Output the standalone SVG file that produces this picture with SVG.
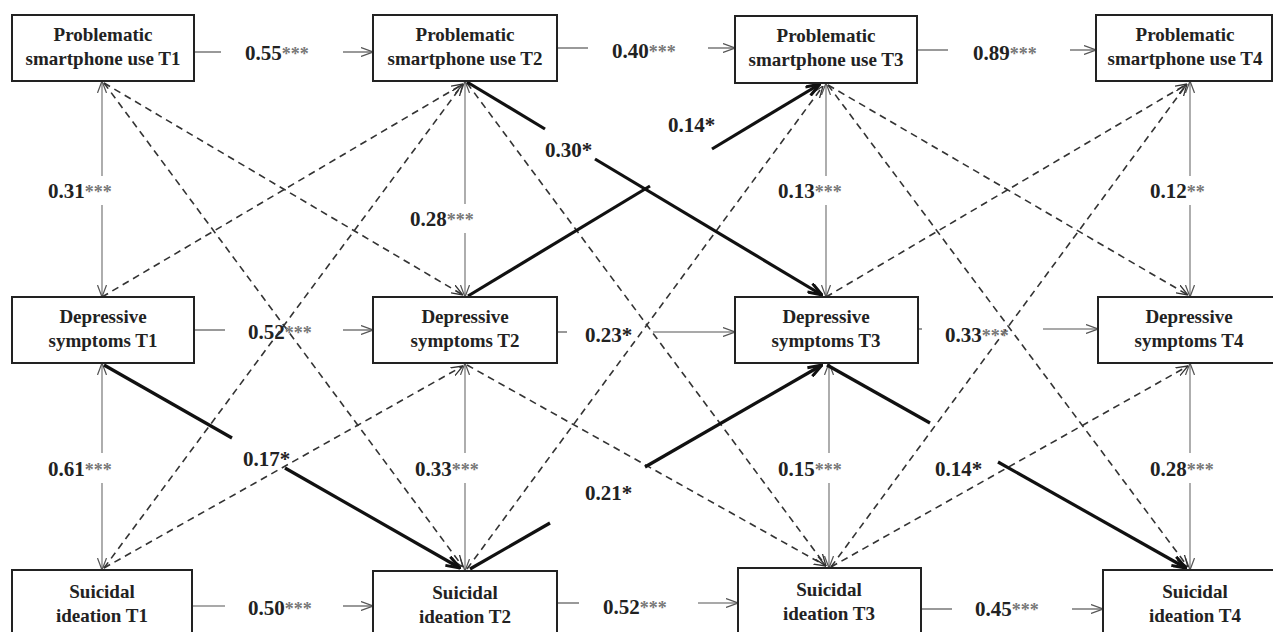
<svg xmlns="http://www.w3.org/2000/svg" width="1273" height="632" viewBox="0 0 1273 632">
<style>
.box{fill:#fff;stroke:#222;stroke-width:2}
.nt{font-family:"Liberation Serif",serif;font-weight:bold;font-size:19px;fill:#222;text-anchor:middle}
.lb{font-family:"Liberation Serif",serif;font-weight:bold;font-size:21px;fill:#222}
.st{fill:#777;font-size:18px}
.thin{stroke:#555;stroke-width:1.2;fill:none}
.vert{stroke:#777;stroke-width:1.2;fill:none}
.dash{stroke:#333;stroke-width:1.6;fill:none;stroke-dasharray:7 5}
.thick{stroke:#111;stroke-width:3.2;fill:none}
</style>
<defs>
<marker id="ah" viewBox="0 0 12 10" refX="12" refY="5" markerWidth="12" markerHeight="10" markerUnits="userSpaceOnUse" orient="auto-start-reverse"><path d="M0,0.5 L12,5 L0,9.5" fill="none" stroke="#555" stroke-width="1.2"/></marker>
<marker id="ahd" viewBox="0 0 12 10" refX="12" refY="5" markerWidth="12" markerHeight="10" markerUnits="userSpaceOnUse" orient="auto"><path d="M0,0.5 L12,5 L0,9.5" fill="none" stroke="#333" stroke-width="1.3"/></marker>
<marker id="ahb" viewBox="0 0 16 12" refX="15" refY="6" markerWidth="16" markerHeight="12" markerUnits="userSpaceOnUse" orient="auto"><path d="M1,1 L15,6 L1,11" fill="none" stroke="#111" stroke-width="3"/></marker>
</defs>

<g id="connectors">
<path class="thin" d="M194,52 H221"/><path class="thin" d="M343,52 H373" marker-end="url(#ah)"/>
<path class="thin" d="M557,48 H588" stroke="#999"/><path class="thin" d="M708,48 H735" marker-end="url(#ah)"/>
<path class="thin" d="M917,50 H948"/><path class="thin" d="M1070,50 H1096" marker-end="url(#ah)"/>
<path class="thin" d="M194,330 H225"/><path class="thin" d="M343,330 H373" marker-end="url(#ah)"/>
<path class="thin" d="M557,332 H567"/><path class="thin" d="M653,332 H735" marker-end="url(#ah)"/>
<path class="thin" d="M918,329 H922"/><path class="thin" d="M1043,329 H1098" marker-end="url(#ah)"/>
<path class="thin" d="M192,606 H225"/><path class="thin" d="M343,606 H373" marker-end="url(#ah)"/>
<path class="thin" d="M557,603 H579"/><path class="thin" d="M698,603 H738" marker-end="url(#ah)"/>
<path class="thin" d="M921,609 H952"/><path class="thin" d="M1072,609 H1103" marker-end="url(#ah)"/>
<path class="vert" d="M102,176 V81" marker-end="url(#ah)"/><path class="vert" d="M102,205 V297" marker-end="url(#ah)"/>
<path class="vert" d="M102,453 V363" marker-end="url(#ah)"/><path class="vert" d="M102,483 V570" marker-end="url(#ah)"/>
<path class="vert" d="M465,204 V81" marker-end="url(#ah)"/><path class="vert" d="M465,233 V297" marker-end="url(#ah)"/>
<path class="vert" d="M465,453 V363" marker-end="url(#ah)"/><path class="vert" d="M465,483 V571" marker-end="url(#ah)"/>
<path class="vert" d="M826,176 V83" marker-end="url(#ah)"/><path class="vert" d="M826,205 V297" marker-end="url(#ah)"/>
<path class="vert" d="M829,453 V363" marker-end="url(#ah)"/><path class="vert" d="M829,483 V568" marker-end="url(#ah)"/>
<path class="vert" d="M1190,176 V81" marker-end="url(#ah)"/><path class="vert" d="M1190,205 V297" marker-end="url(#ah)"/>
<path class="vert" d="M1190,453 V363" marker-end="url(#ah)"/><path class="vert" d="M1190,483 V570" marker-end="url(#ah)"/>
<path class="dash" d="M104,83 L463,295" marker-end="url(#ahd)"/>
<path class="dash" d="M104,83 L463,567" marker-end="url(#ahd)"/>
<path class="dash" d="M102,297 L463,84" marker-end="url(#ahd)"/>
<path class="dash" d="M104,568 L463,84" marker-end="url(#ahd)"/>
<path class="dash" d="M104,568 L463,366" marker-end="url(#ahd)"/>
<path class="dash" d="M467,83 L826,566" marker-end="url(#ahd)"/>
<path class="dash" d="M467,365 L826,566" marker-end="url(#ahd)"/>
<path class="dash" d="M467,569 L823,86" marker-end="url(#ahd)"/>
<path class="dash" d="M828,85 L1188,295" marker-end="url(#ahd)"/>
<path class="dash" d="M828,85 L1188,567" marker-end="url(#ahd)"/>
<path class="dash" d="M826,297 L1187,84" marker-end="url(#ahd)"/>
<path class="dash" d="M831,567 L1187,84" marker-end="url(#ahd)"/>
<path class="dash" d="M831,567 L1188,366" marker-end="url(#ahd)"/>
<path class="thick" d="M104,365 L232,438"/><path class="thick" d="M285,468 L460,568" marker-end="url(#ahb)"/>
<path class="thick" d="M467,82 L545,129"/><path class="thick" d="M595,159 L822,295" marker-end="url(#ahb)"/>
<path class="thick" d="M468,296 L650,186"/><path class="thick" d="M712,149 L820,84" marker-end="url(#ahb)"/>
<path class="thick" d="M470,569 L550,523"/><path class="thick" d="M645,467 L822,365" marker-end="url(#ahb)"/>
<path class="thick" d="M827,365 L930,423"/><path class="thick" d="M998,462 L1186,568" marker-end="url(#ahb)"/>
</g>

<g id="labels">
<text class="lb" x="245" y="60">0.55<tspan class="st">***</tspan></text>
<text class="lb" x="612" y="58">0.40<tspan class="st">***</tspan></text>
<text class="lb" x="973" y="60">0.89<tspan class="st">***</tspan></text>
<text class="lb" x="248" y="339">0.52<tspan class="st">***</tspan></text>
<text class="lb" x="585" y="342">0.23*</text>
<text class="lb" x="945" y="342">0.33<tspan class="st">***</tspan></text>
<text class="lb" x="248" y="615">0.50<tspan class="st">***</tspan></text>
<text class="lb" x="603" y="614">0.52<tspan class="st">***</tspan></text>
<text class="lb" x="975" y="616">0.45<tspan class="st">***</tspan></text>
<text class="lb" x="48" y="198">0.31<tspan class="st">***</tspan></text>
<text class="lb" x="410" y="226">0.28<tspan class="st">***</tspan></text>
<text class="lb" x="545" y="157">0.30*</text>
<text class="lb" x="668" y="132">0.14*</text>
<text class="lb" x="778" y="198">0.13<tspan class="st">***</tspan></text>
<text class="lb" x="1150" y="198">0.12<tspan class="st">**</tspan></text>
<text class="lb" x="48" y="476">0.61<tspan class="st">***</tspan></text>
<text class="lb" x="243" y="466" font-weight="normal" fill="#444">0.17*</text>
<text class="lb" x="415" y="476">0.33<tspan class="st">***</tspan></text>
<text class="lb" x="585" y="500">0.21*</text>
<text class="lb" x="778" y="476">0.15<tspan class="st">***</tspan></text>
<text class="lb" x="935" y="476">0.14*</text>
<text class="lb" x="1150" y="476">0.28<tspan class="st">***</tspan></text>
</g>

<g id="psu_t1"><rect class="box" x="12" y="15" width="182" height="66"/><text class="nt" x="103" y="41">Problematic</text><text class="nt" x="103" y="65">smartphone use T1</text></g>
<g id="psu_t2"><rect class="box" x="373" y="15" width="184" height="66"/><text class="nt" x="465" y="41">Problematic</text><text class="nt" x="465" y="65">smartphone use T2</text></g>
<g id="psu_t3"><rect class="box" x="735" y="16" width="182" height="67"/><text class="nt" x="826" y="42">Problematic</text><text class="nt" x="826" y="66">smartphone use T3</text></g>
<g id="psu_t4"><rect class="box" x="1096" y="15" width="176" height="66"/><text class="nt" x="1185" y="41">Problematic</text><text class="nt" x="1185" y="65">smartphone use T4</text></g>

<g id="dep_t1"><rect class="box" x="12" y="297" width="182" height="66"/><text class="nt" x="103" y="323">Depressive</text><text class="nt" x="103" y="347">symptoms T1</text></g>
<g id="dep_t2"><rect class="box" x="373" y="297" width="184" height="66"/><text class="nt" x="465" y="323">Depressive</text><text class="nt" x="465" y="347">symptoms T2</text></g>
<g id="dep_t3"><rect class="box" x="735" y="297" width="183" height="66"/><text class="nt" x="826" y="323">Depressive</text><text class="nt" x="826" y="347">symptoms T3</text></g>
<g id="dep_t4"><rect class="box" x="1098" y="297" width="184" height="66"/><text class="nt" x="1189" y="323">Depressive</text><text class="nt" x="1189" y="347">symptoms T4</text></g>

<g id="si_t1"><rect class="box" x="12" y="570" width="180" height="75"/><text class="nt" x="102" y="598">Suicidal</text><text class="nt" x="102" y="622">ideation T1</text></g>
<g id="si_t2"><rect class="box" x="373" y="571" width="184" height="75"/><text class="nt" x="465" y="599">Suicidal</text><text class="nt" x="465" y="623">ideation T2</text></g>
<g id="si_t3"><rect class="box" x="738" y="568" width="183" height="75"/><text class="nt" x="829" y="596">Suicidal</text><text class="nt" x="829" y="620">ideation T3</text></g>
<g id="si_t4"><rect class="box" x="1103" y="570" width="186" height="75"/><text class="nt" x="1195" y="598">Suicidal</text><text class="nt" x="1195" y="622">ideation T4</text></g>
</svg>
